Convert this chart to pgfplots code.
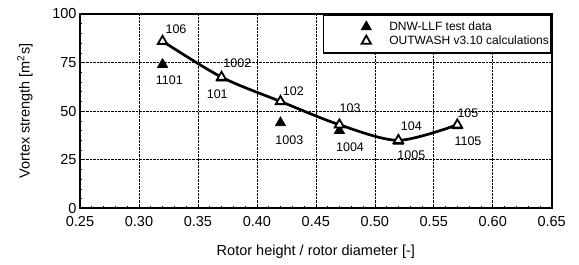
\documentclass[border=0pt]{standalone}
\usepackage{fontspec}
\setmainfont{Liberation Sans}
\usepackage{pgfplots}
\pgfplotsset{compat=1.18}
\begin{document}
\begin{tikzpicture}
\begin{axis}[name=ax, scale only axis, width=471.7bp, height=194.3bp,
  xmin=0.25, xmax=0.65, ymin=0, ymax=100,
  xtick={0.25,0.30,0.35,0.40,0.45,0.50,0.55,0.60,0.65},
  ytick={0,25,50,75,100},
  minor x tick num=4, minor y tick num=4,
  /pgf/number format/assume math mode=true,
  xticklabel style={yshift=-5bp, /pgf/number format/fixed, /pgf/number format/fixed zerofill, /pgf/number format/precision=2},
  tick align=inside, tick pos=left,
  major tick length=4bp, minor tick length=2.5bp,
  grid=major, major grid style={densely dotted, black, line width=0.6bp},
  axis line style={line width=1.8bp},
  tick style={black, line width=0.6bp},
  ticklabel style={font=\fontsize{14.5bp}{16bp}\selectfont},
  label style={font=\fontsize{14.5bp}{16bp}\selectfont},
  xlabel={Rotor height / rotor diameter [-]},
  ylabel={Vortex strength [m\textsuperscript{2}s]},
  xlabel style={at={(axis description cs:0.5,-0.223)}, anchor=center},
  ylabel style={at={(axis description cs:-0.1166,0.5)}, anchor=center},
  legend style={at={(1,1)}, anchor=north east, draw=black, line width=1.6bp,
    font=\fontsize{12bp}{13bp}\selectfont, inner xsep=0bp, inner ysep=5bp,
    row sep=0bp},
  legend cell align=left,
  legend image code/.code={\path[draw=none,fill=none] (0bp,-4bp) rectangle (64bp,4bp); \draw[#1] plot coordinates {(43bp,0bp)};},
]
\addplot[only marks, mark=triangle*, mark size=5.8bp, mark options={fill=black, draw=black, line width=0.8bp}]
  coordinates {(0.32,74) (0.37,67) (0.42,44) (0.47,40) (0.52,34.5) (0.57,42.5)};
\addlegendentry{DNW-LLF test data}
\addplot[smooth, line width=2.7bp, black, no marks, forget plot]
  coordinates {(0.32,86) (0.37,67.5) (0.42,55) (0.47,43) (0.52,35) (0.57,43)};
\addplot[only marks, mark=triangle*, mark size=5.4bp, mark options={fill=white, draw=black, line width=1.8bp}]
  coordinates {(0.32,86) (0.37,67.5) (0.42,55) (0.47,43) (0.52,35) (0.57,43)};
\addlegendentry{OUTWASH v3.10 calculations}
\begin{scope}[every node/.style={font=\fontsize{12.5bp}{13bp}\selectfont, inner sep=0pt, anchor=center}]
\node at (axis cs:0.3314,92.1) {106};
\node at (axis cs:0.3257,66.0) {1101};
\node at (axis cs:0.3834,74.6) {1002};
\node at (axis cs:0.3664,58.8) {101};
\node at (axis cs:0.4309,60.5) {102};
\node at (axis cs:0.4275,35.2) {1003};
\node at (axis cs:0.479,51.5) {103};
\node at (axis cs:0.479,31.7) {1004};
\node at (axis cs:0.531,42.0) {104};
\node at (axis cs:0.531,27.4) {1005};
\node at (axis cs:0.579,48.9) {105};
\node at (axis cs:0.579,34.3) {1105};
\end{scope}
\end{axis}
\pgfresetboundingbox
\path ([shift={(-80bp,-56bp)}]ax.south west) rectangle ([shift={(27.3bp,14bp)}]ax.north east);
\end{tikzpicture}
\end{document}
